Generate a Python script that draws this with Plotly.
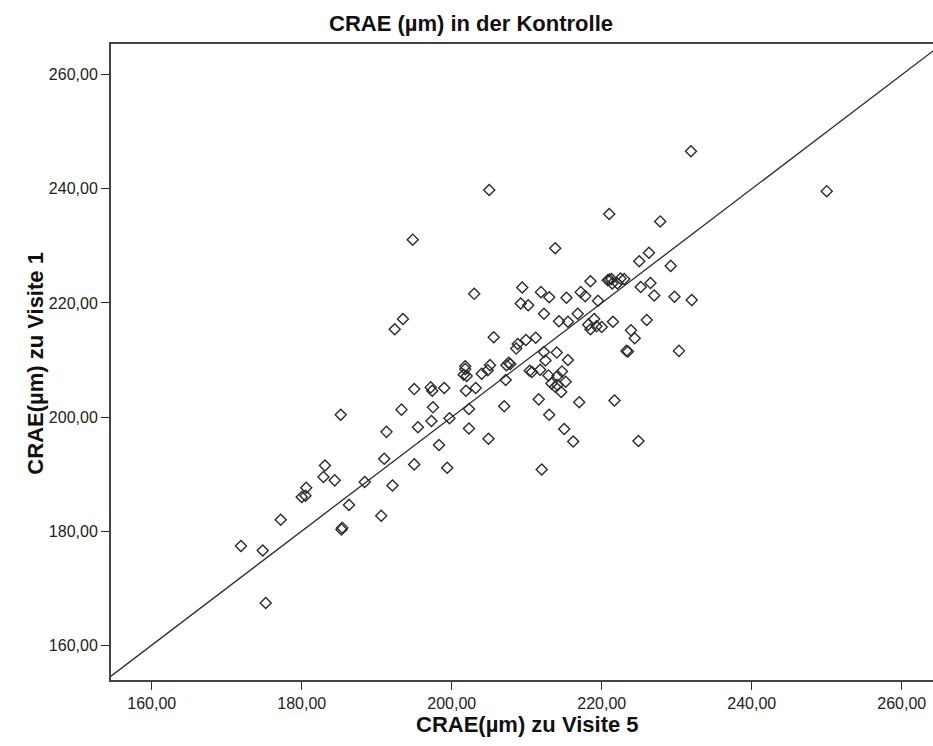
import plotly.graph_objects as go

# CRAE (µm) measured at visit 5 (x) versus visit 1 (y), control group
visite5 = [171.9, 174.8, 175.2, 177.2, 180.0, 180.5, 180.6, 182.9, 183.1, 184.4,
           185.2, 185.3, 185.4, 186.3, 188.4, 190.6, 191.0, 191.3, 192.1, 192.4,
           193.3, 193.5, 194.8, 195.0, 195.0, 195.5, 197.2, 197.3, 197.5, 197.4,
           198.3, 199.0, 199.4, 199.7, 201.6, 201.8, 201.8, 201.9, 202.0, 202.3,
           202.3, 203.0, 203.2, 204.0, 204.9, 204.8, 205.0, 205.1, 205.6, 207.0,
           207.2, 207.3, 207.6, 207.8, 208.6, 208.8, 209.2, 209.4, 209.9, 210.2,
           210.4, 210.7, 211.2, 211.6, 211.8, 211.9, 212.0, 212.3, 212.3, 212.5,
           212.9, 213.0, 213.0, 213.3, 213.8, 213.8, 214.0, 214.1, 214.1, 214.3,
           214.6, 214.7, 215.0, 215.2, 215.3, 215.5, 215.5, 216.2, 216.8, 217.0,
           217.2, 217.8, 218.2, 218.5, 218.5, 219.0, 219.3, 219.5, 220.0, 220.8,
           221.0, 221.0, 221.3, 221.4, 221.5, 221.7, 222.1, 222.5, 223.0, 223.3,
           223.5, 223.9, 224.4, 224.9, 225.0, 225.2, 226.0, 226.3, 226.5, 227.0,
           227.8, 229.2, 229.7, 230.3, 231.9, 232.0, 250.0]
visite1 = [177.4, 176.6, 167.4, 182.0, 186.0, 186.2, 187.6, 189.5, 191.5, 188.9,
           200.4, 180.3, 180.6, 184.6, 188.6, 182.7, 192.7, 197.4, 188.0, 215.4,
           201.3, 217.2, 231.1, 204.9, 191.7, 198.2, 205.2, 199.3, 201.7, 204.6,
           195.1, 205.1, 191.1, 199.8, 207.4, 208.4, 208.9, 204.6, 207.2, 198.0,
           201.4, 221.6, 205.1, 207.6, 196.2, 208.2, 239.8, 209.1, 214.0, 201.9,
           206.5, 209.1, 209.5, 209.3, 212.0, 212.8, 219.9, 222.7, 213.5, 219.6,
           208.1, 207.9, 213.9, 203.1, 208.3, 221.9, 190.8, 211.4, 218.1, 209.9,
           207.3, 200.4, 221.0, 205.9, 229.6, 205.3, 211.3, 205.6, 207.2, 216.8,
           204.4, 208.0, 197.9, 206.2, 220.9, 210.0, 216.7, 195.7, 218.1, 202.6,
           221.9, 221.2, 216.2, 215.4, 223.8, 217.2, 215.9, 220.4, 215.8, 224.0,
           235.6, 224.1, 224.2, 223.4, 216.7, 202.9, 223.4, 224.3, 224.2, 211.6,
           211.5, 215.2, 213.8, 195.8, 227.3, 222.8, 217.0, 228.8, 223.5, 221.3,
           234.3, 226.5, 221.1, 211.6, 246.6, 220.5, 239.6]

tick_vals = [160, 180, 200, 220, 240, 260]
x_range = [154.57, 264.17]
y_range = [153.9, 265.4]

INK = "#2b2b2b"
FONT = "Liberation Sans, Arial, sans-serif"

fig = go.Figure()

# identity reference line y = x across the plotting area
ref = [min(x_range[0], y_range[0]), max(x_range[1], y_range[1])]
fig.add_trace(go.Scatter(
    x=ref, y=ref, mode="lines",
    line=dict(color=INK, width=1.3),
    hoverinfo="skip", showlegend=False,
))

fig.add_trace(go.Scatter(
    x=visite5, y=visite1, mode="markers",
    marker=dict(symbol="diamond-open", size=8.5, color=INK,
                line=dict(color=INK, width=1.4)),
    showlegend=False,
))

axis_common = dict(
    tickvals=tick_vals, tickformat=".2f",
    ticks="outside", ticklen=8, tickwidth=1.3, tickcolor=INK,
    showline=True, linecolor="#444444", linewidth=2,
    showgrid=False, zeroline=False,
    tickfont=dict(family=FONT, size=16, color="#222222"),
)

fig.update_xaxes(range=x_range, mirror=True, **axis_common)
fig.update_yaxes(range=y_range, mirror=False, **axis_common)

fig.update_layout(
    width=933, height=746,
    margin=dict(l=111, r=0, t=44, b=66),
    paper_bgcolor="white", plot_bgcolor="white",
    separators=", ",
    font=dict(family=FONT, color="#111111"),
    annotations=[
        dict(text="<b>CRAE (µm) in der Kontrolle</b>", xref="paper", yref="paper",
             x=0.438, y=1.032, xanchor="center", yanchor="middle",
             showarrow=False, font=dict(size=22, family=FONT, color="#111111")),
        dict(text="<b>CRAE(µm) zu Visite 5</b>", xref="paper", yref="paper",
             x=0.507, y=-0.070, xanchor="center", yanchor="middle",
             showarrow=False, font=dict(size=22, family=FONT, color="#111111")),
        dict(text="<b>CRAE(µm) zu Visite 1</b>", xref="paper", yref="paper",
             x=-0.092, y=0.498, xanchor="center", yanchor="middle", textangle=-90,
             showarrow=False, font=dict(size=22, family=FONT, color="#111111")),
    ],
)

fig.write_html("out.html")
